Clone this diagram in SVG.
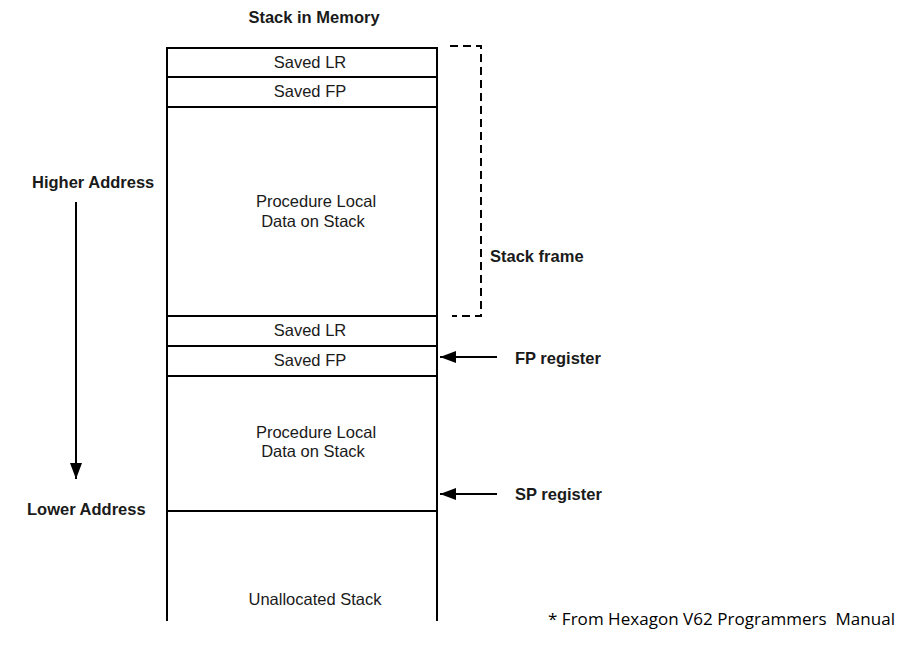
<svg xmlns="http://www.w3.org/2000/svg" width="906" height="652" viewBox="0 0 906 652">
<defs>
<style>
.t{font-family:"Liberation Sans",Arial,sans-serif;font-size:16.5px;fill:#1a1a1a}
.c{text-anchor:middle}
.b{font-weight:bold}
.ln{stroke:#000;stroke-width:2;fill:none}
.dash{stroke:#000;stroke-width:2;fill:none;stroke-dasharray:8,5}
.note{font-family:"Open Sans","Liberation Sans",sans-serif;font-size:17px;fill:#000}
</style>
<marker id="ahl" markerWidth="16" markerHeight="12" refX="16" refY="6" orient="auto" markerUnits="userSpaceOnUse">
<path d="M0,0 L16,6 L0,12 Z" fill="#000"/>
</marker>
</defs>
<rect width="906" height="652" fill="#fff"/>
<text class="t b c" x="314" y="23">Stack in Memory</text>
<g id="stack">
<path class="ln" d="M167,621 V48 H437 V621"/>
<line class="ln" x1="167" y1="77" x2="437" y2="77"/>
<line class="ln" x1="167" y1="107" x2="437" y2="107"/>
<line class="ln" x1="167" y1="316" x2="437" y2="316"/>
<line class="ln" x1="167" y1="346" x2="437" y2="346"/>
<line class="ln" x1="167" y1="376" x2="437" y2="376"/>
<line class="ln" x1="167" y1="511" x2="437" y2="511"/>
</g>
<g id="saved-lr-1"><text class="t c" x="310" y="68">Saved LR</text></g>
<g id="saved-fp-1"><text class="t c" x="310" y="97">Saved FP</text></g>
<g id="local-1"><text class="t c" x="316" y="207">Procedure Local</text><text class="t c" x="313" y="227">Data on Stack</text></g>
<g id="saved-lr-2"><text class="t c" x="310" y="336">Saved LR</text></g>
<g id="saved-fp-2"><text class="t c" x="310" y="366">Saved FP</text></g>
<g id="local-2"><text class="t c" x="316" y="438">Procedure Local</text><text class="t c" x="313" y="457">Data on Stack</text></g>
<g id="unalloc"><text class="t c" x="315" y="605">Unallocated Stack</text></g>
<g id="stack-frame">
<path class="dash" d="M450,46 H481 V316 H452"/>
<text class="t b" x="490" y="262">Stack frame</text>
</g>
<g id="fp-reg"><text class="t b" x="515" y="364">FP register</text></g>
<g id="sp-reg"><text class="t b" x="515" y="500">SP register</text></g>
<g id="higher"><text class="t b" x="32" y="188">Higher Address</text></g>
<g id="lower"><text class="t b" x="27" y="515">Lower Address</text></g>
<g id="connectors">
<line class="ln" x1="497" y1="357" x2="440" y2="357" marker-end="url(#ahl)"/>
<line class="ln" x1="497" y1="494" x2="440" y2="494" marker-end="url(#ahl)"/>
<line class="ln" x1="76" y1="202" x2="76" y2="479" marker-end="url(#ahl)"/>
</g>
<text class="note" x="548" y="625" textLength="347" lengthAdjust="spacing">* From Hexagon V62 Programmers&#160; Manual</text>
</svg>
